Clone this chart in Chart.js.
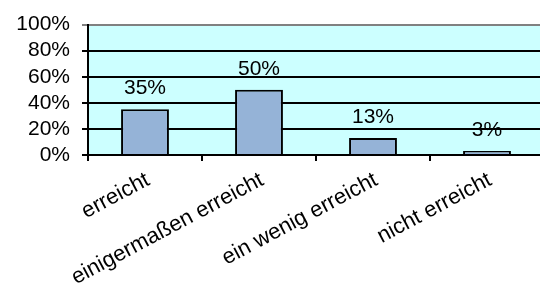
<!DOCTYPE html>
<html>
<head>
<meta charset="utf-8">
<script src="https://cdn.jsdelivr.net/npm/chart.js@4"></script>
<style>
  html, body { margin: 0; padding: 0; background: #fff; overflow: hidden; }
  #wrap { width: 548px; height: 290px; }
</style>
</head>
<body>
<div id="wrap"><canvas id="chart" width="548" height="290"></canvas></div>
<script>
const categories = ["erreicht", "einigermaßen erreicht", "ein wenig erreicht", "nicht erreicht"];
const values = [35, 50, 13, 3];
const yTicks = [0, 20, 40, 60, 80, 100];

const FONT = '"Liberation Sans", Arial, sans-serif';

// Hintergrund der Zeichenfläche
const plotBackground = {
  id: "plotBackground",
  beforeDraw: (chart) => {
    const { ctx, chartArea } = chart;
    ctx.save();
    ctx.fillStyle = "#ccffff";
    ctx.fillRect(chartArea.left, chartArea.top, chartArea.right - chartArea.left, chartArea.bottom - chartArea.top);
    ctx.restore();
  },
};

// Prozentwerte über den Balken
const valueLabels = {
  id: "valueLabels",
  afterDatasetsDraw: (chart) => {
    const { ctx } = chart;
    const meta = chart.getDatasetMeta(0);
    ctx.save();
    ctx.font = "21px " + FONT;
    ctx.fillStyle = "#000";
    ctx.textAlign = "center";
    ctx.textBaseline = "alphabetic";
    meta.data.forEach((bar, i) => {
      ctx.fillText(values[i] + "%", bar.x, bar.y - 15);
    });
    ctx.restore();
  },
};

const ctx = document.getElementById("chart").getContext("2d");
new Chart(ctx, {
  type: "bar",
  data: {
    labels: categories,
    datasets: [
      {
        data: values,
        backgroundColor: "#95b3d7",
        borderColor: "#000",
        borderWidth: 2,
        barPercentage: 0.42,
        categoryPercentage: 1,
      },
    ],
  },
  options: {
    responsive: false,
    animation: false,
    layout: { padding: { top: 20, right: 4, left: 0, bottom: 0 } },
    plugins: {
      legend: { display: false },
      tooltip: { enabled: false },
    },
    scales: {
      x: {
        offset: true,
        grid: {
          offset: true,
          drawOnChartArea: false,
          drawTicks: true,
          tickLength: 6,
          color: "#000",
          lineWidth: 2,
        },
        border: { color: "#000", width: 2 },
        ticks: {
          color: "#000",
          font: { family: FONT, size: 22 },
          minRotation: 28,
          maxRotation: 28,
          padding: 6,
          labelOffset: 3,
          autoSkip: false,
        },
        afterFit: (scale) => {
          scale.height = 135;
        },
      },
      y: {
        min: 0,
        max: 100,
        afterBuildTicks: (scale) => {
          scale.ticks = yTicks.map((v) => ({ value: v }));
        },
        grid: {
          color: (c) => (c.tick && c.tick.value === 100 ? "#808080" : "#000"),
          lineWidth: 2,
          tickLength: 6,
        },
        border: { color: "#000", width: 2 },
        ticks: {
          color: "#000",
          font: { family: FONT, size: 21 },
          padding: 12,
          autoSkip: false,
          callback: (v) => v + "%",
        },
        afterFit: (scale) => {
          scale.width = 88;
        },
      },
    },
  },
  plugins: [plotBackground, valueLabels],
});
</script>
</body>
</html>
